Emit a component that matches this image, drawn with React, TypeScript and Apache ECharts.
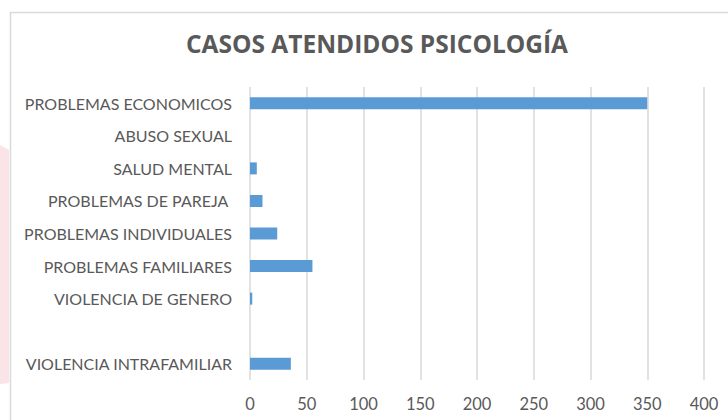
import React, { useEffect, useRef } from "react";
import * as echarts from "echarts";

const titleText = "CASOS ATENDIDOS PSICOLOGÍA";
const categories = [
  "PROBLEMAS ECONOMICOS",
  "ABUSO SEXUAL",
  "SALUD MENTAL",
  "PROBLEMAS DE PAREJA ",
  "PROBLEMAS INDIVIDUALES",
  "PROBLEMAS FAMILIARES",
  "VIOLENCIA DE GENERO",
  "",
  "VIOLENCIA INTRAFAMILIAR",
];
const values: (number | null)[] = [350, 0, 6, 11, 24, 55, 2, null, 36];
const xMin = 0;
const xMax = 400;
const xInterval = 50;

const FONT = "Lato, 'Noto Sans', sans-serif";
const TEXT = "#595959";
const GRID = "#d9d9d9";

export default function App() {
  const ref = useRef<HTMLDivElement>(null);
  useEffect(() => {
    if (!ref.current) return;
    const chart = echarts.init(ref.current, undefined, { renderer: "svg" });
    chart.setOption({
      animation: false,
      backgroundColor: "#ffffff",
      graphic: [
        {
          type: "polygon",
          z: -10,
          silent: true,
          shape: { points: [[0, 145], [9, 150], [9, 383], [0, 384]] },
          style: { fill: "#fbe4e7" },
        },
        {
          type: "rect",
          z: -5,
          silent: true,
          shape: { x: 10.5, y: 12.5, width: 740, height: 440 },
          style: { fill: "#ffffff", stroke: GRID, lineWidth: 1.5 },
        },
      ],
      title: {
        text: titleText,
        left: 372,
        textAlign: "center",
        top: 26,
        textStyle: {
          fontFamily: "'Open Sans', sans-serif",
          fontWeight: "bold",
          fontSize: 24.5,
          color: TEXT,
        },
      },
      grid: { left: 250, right: 24, top: 87, bottom: 40, containLabel: false },
      xAxis: {
        type: "value",
        min: xMin,
        max: xMax,
        interval: xInterval,
        axisLine: { show: false },
        axisTick: { show: false },
        splitLine: { show: true, lineStyle: { color: GRID, width: 1.5 } },
        axisLabel: {
          color: TEXT,
          fontFamily: FONT,
          fontSize: 16.5,
          margin: 15,
        },
      },
      yAxis: {
        type: "category",
        data: categories,
        inverse: true,
        axisLine: { show: false },
        axisTick: { show: false },
        axisLabel: {
          color: TEXT,
          fontFamily: FONT,
          fontSize: 16,
          margin: 18,
        },
      },
      series: [
        {
          type: "bar",
          data: values,
          barWidth: 12,
          itemStyle: { color: "#5b9bd5" },
        },
      ],
    });
    return () => chart.dispose();
  }, []);
  return <div ref={ref} style={{ width: 728, height: 420, position: "absolute", left: 0, top: 0 }} />;
}
